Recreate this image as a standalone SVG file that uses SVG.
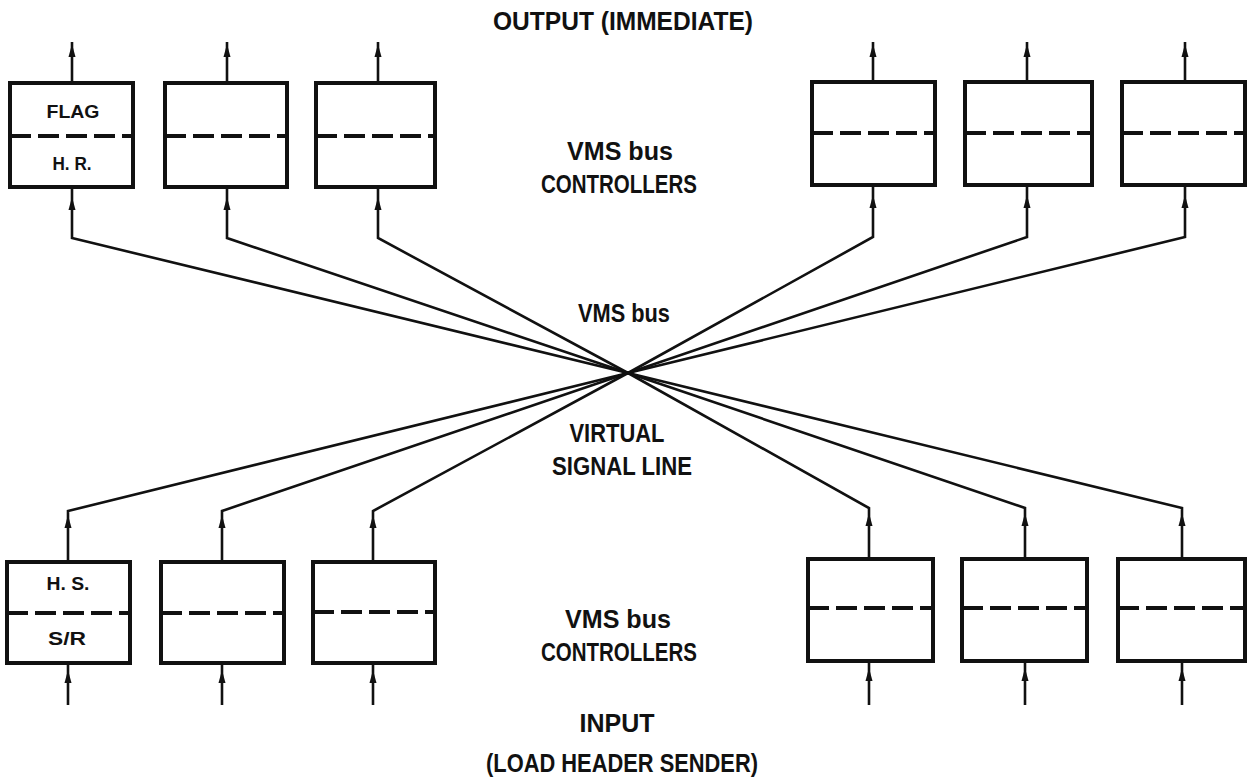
<svg xmlns="http://www.w3.org/2000/svg" xmlns:xlink="http://www.w3.org/1999/xlink" width="1250" height="782" viewBox="0 0 1250 782">
  <style>
    .box { fill: #fff; stroke: #111; stroke-width: 4; }
    .div { stroke: #111; stroke-width: 4; stroke-dasharray: 21 7; fill: none; }
    .wire { stroke: #111; stroke-width: 2.6; fill: none; stroke-linejoin: miter; }
    .lbl { font-family: "Liberation Sans", Arial, sans-serif; font-size: 25px; font-weight: bold; fill: #111; text-anchor: middle; }
    .blbl { font-family: "Liberation Sans", Arial, sans-serif; font-size: 19px; font-weight: bold; fill: #111; text-anchor: middle; }
  </style>
  <defs>
    <!-- upward arrowhead, tip at origin -->
    <path id="ah" d="M0,0 L-3.5,13 L3.5,13 Z" fill="#111"/>
  </defs>
  <rect width="1250" height="782" fill="#fff"/>

  <!-- connectors: bus wires through the crossing point and I/O arrows -->
  <g id="connectors">
    <!-- top controllers to crossing -->
    <path class="wire" d="M72,187 V238 L628,373"/>
    <path class="wire" d="M227,187 V238 L628,373"/>
    <path class="wire" d="M378,187 V238 L628,373"/>
    <path class="wire" d="M873,185 V237 L628,373"/>
    <path class="wire" d="M1027,185 V237 L628,373"/>
    <path class="wire" d="M1185,185 V237 L628,373"/>
    <!-- bottom controllers to crossing -->
    <path class="wire" d="M68,562 V511 L628,373"/>
    <path class="wire" d="M222,562 V511 L628,373"/>
    <path class="wire" d="M373,562 V511 L628,373"/>
    <path class="wire" d="M869,559 V508 L628,373"/>
    <path class="wire" d="M1025,559 V508 L628,373"/>
    <path class="wire" d="M1182,559 V508 L628,373"/>
    <!-- outputs (top) -->
    <path class="wire" d="M72,83 V42"/>
    <path class="wire" d="M227,83 V42"/>
    <path class="wire" d="M378,83 V42"/>
    <path class="wire" d="M873,82 V42"/>
    <path class="wire" d="M1027,82 V42"/>
    <path class="wire" d="M1185,82 V42"/>
    <!-- inputs (bottom) -->
    <path class="wire" d="M68,705 V663"/>
    <path class="wire" d="M222,705 V663"/>
    <path class="wire" d="M373,705 V663"/>
    <path class="wire" d="M869,705 V661"/>
    <path class="wire" d="M1025,705 V661"/>
    <path class="wire" d="M1182,705 V661"/>
    <!-- arrowheads -->
    <use xlink:href="#ah" x="72" y="44"/>
    <use xlink:href="#ah" x="227" y="44"/>
    <use xlink:href="#ah" x="378" y="44"/>
    <use xlink:href="#ah" x="873" y="44"/>
    <use xlink:href="#ah" x="1027" y="44"/>
    <use xlink:href="#ah" x="1185" y="44"/>
    <use xlink:href="#ah" x="72" y="197"/>
    <use xlink:href="#ah" x="227" y="197"/>
    <use xlink:href="#ah" x="378" y="197"/>
    <use xlink:href="#ah" x="873" y="195"/>
    <use xlink:href="#ah" x="1027" y="195"/>
    <use xlink:href="#ah" x="1185" y="195"/>
    <use xlink:href="#ah" x="68" y="515"/>
    <use xlink:href="#ah" x="222" y="515"/>
    <use xlink:href="#ah" x="373" y="515"/>
    <use xlink:href="#ah" x="869" y="513"/>
    <use xlink:href="#ah" x="1025" y="513"/>
    <use xlink:href="#ah" x="1182" y="513"/>
    <use xlink:href="#ah" x="68" y="670"/>
    <use xlink:href="#ah" x="222" y="670"/>
    <use xlink:href="#ah" x="373" y="670"/>
    <use xlink:href="#ah" x="869" y="668"/>
    <use xlink:href="#ah" x="1025" y="668"/>
    <use xlink:href="#ah" x="1182" y="668"/>
  </g>

  <!-- top row of controllers -->
  <g id="ctl-top-1">
    <rect class="box" x="10" y="83" width="123" height="104"/>
    <line class="div" x1="10" y1="136" x2="133" y2="136"/>
    <text class="blbl" x="73" y="118" textLength="53" lengthAdjust="spacingAndGlyphs">FLAG</text>
    <text class="blbl" x="72" y="170" textLength="39" lengthAdjust="spacingAndGlyphs">H. R.</text>
  </g>
  <g id="ctl-top-2">
    <rect class="box" x="165" y="83" width="122" height="104"/>
    <line class="div" x1="165" y1="136" x2="287" y2="136"/>
  </g>
  <g id="ctl-top-3">
    <rect class="box" x="316" y="83" width="119" height="104"/>
    <line class="div" x1="316" y1="136" x2="435" y2="136"/>
  </g>
  <g id="ctl-top-4">
    <rect class="box" x="812" y="82" width="123" height="103"/>
    <line class="div" x1="812" y1="133" x2="935" y2="133"/>
  </g>
  <g id="ctl-top-5">
    <rect class="box" x="965" y="82" width="127" height="103"/>
    <line class="div" x1="965" y1="133" x2="1092" y2="133"/>
  </g>
  <g id="ctl-top-6">
    <rect class="box" x="1122" y="82" width="123" height="103"/>
    <line class="div" x1="1122" y1="133" x2="1245" y2="133"/>
  </g>

  <!-- bottom row of controllers -->
  <g id="ctl-bot-1">
    <rect class="box" x="7" y="562" width="123" height="101"/>
    <line class="div" x1="7" y1="613" x2="130" y2="613"/>
    <text class="blbl" x="68" y="590" textLength="43" lengthAdjust="spacingAndGlyphs">H. S.</text>
    <text class="blbl" x="67" y="645" textLength="38" lengthAdjust="spacingAndGlyphs">S/R</text>
  </g>
  <g id="ctl-bot-2">
    <rect class="box" x="161" y="562" width="123" height="101"/>
    <line class="div" x1="161" y1="613" x2="284" y2="613"/>
  </g>
  <g id="ctl-bot-3">
    <rect class="box" x="313" y="562" width="122" height="101"/>
    <line class="div" x1="313" y1="612" x2="435" y2="612"/>
  </g>
  <g id="ctl-bot-4">
    <rect class="box" x="808" y="559" width="125" height="102"/>
    <line class="div" x1="808" y1="608" x2="933" y2="608"/>
  </g>
  <g id="ctl-bot-5">
    <rect class="box" x="962" y="559" width="125" height="102"/>
    <line class="div" x1="962" y1="608" x2="1087" y2="608"/>
  </g>
  <g id="ctl-bot-6">
    <rect class="box" x="1118" y="559" width="127" height="102"/>
    <line class="div" x1="1118" y1="608" x2="1245" y2="608"/>
  </g>

  <!-- captions -->
  <g id="captions">
    <text class="lbl" x="623" y="30" textLength="260" lengthAdjust="spacingAndGlyphs">OUTPUT (IMMEDIATE)</text>
    <text class="lbl" x="620" y="160" textLength="106" lengthAdjust="spacingAndGlyphs">VMS bus</text>
    <text class="lbl" x="619" y="193" textLength="156" lengthAdjust="spacingAndGlyphs">CONTROLLERS</text>
    <text class="lbl" x="624" y="322" textLength="92" lengthAdjust="spacingAndGlyphs">VMS bus</text>
    <text class="lbl" x="617" y="442" textLength="95" lengthAdjust="spacingAndGlyphs">VIRTUAL</text>
    <text class="lbl" x="622" y="475" textLength="140" lengthAdjust="spacingAndGlyphs">SIGNAL LINE</text>
    <text class="lbl" x="618" y="628" textLength="106" lengthAdjust="spacingAndGlyphs">VMS bus</text>
    <text class="lbl" x="619" y="661" textLength="156" lengthAdjust="spacingAndGlyphs">CONTROLLERS</text>
    <text class="lbl" x="617" y="732" textLength="75" lengthAdjust="spacingAndGlyphs">INPUT</text>
    <text class="lbl" x="622" y="772" textLength="272" lengthAdjust="spacingAndGlyphs">(LOAD HEADER SENDER)</text>
  </g>
</svg>
